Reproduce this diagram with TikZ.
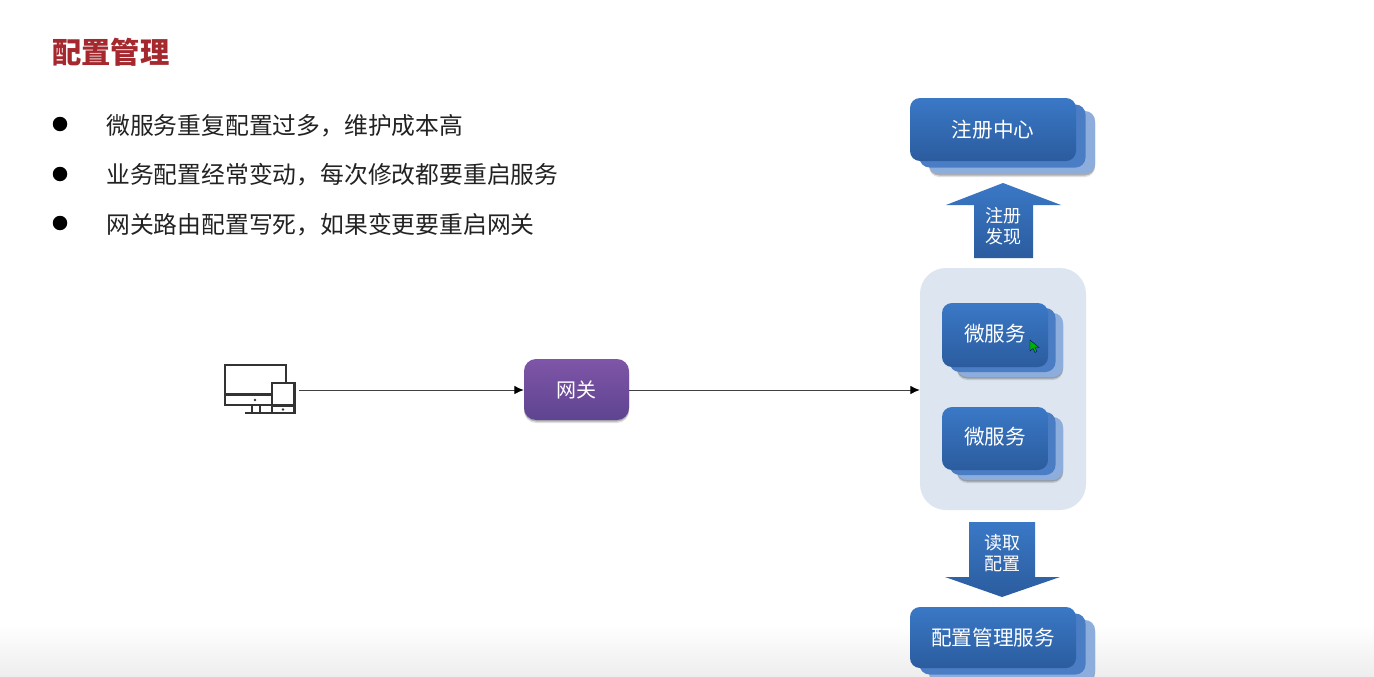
\documentclass[tikz,border=0pt]{standalone}
\usepackage{fontspec}
\setmainfont{Noto Sans CJK SC}
\usetikzlibrary{arrows.meta,shadows,calc}
\definecolor{titlered}{HTML}{A5282E}
\definecolor{bluetop}{HTML}{3A78C6}
\definecolor{bluebot}{HTML}{2B5C9E}
\definecolor{bluemid}{HTML}{4A7DC4}
\definecolor{blueback}{HTML}{8DAEDC}
\definecolor{panel}{HTML}{DCE5F0}
\definecolor{purptop}{HTML}{7F55A8}
\definecolor{purpbot}{HTML}{5E4490}
\definecolor{inkgray}{HTML}{222222}
\definecolor{iconink}{HTML}{333333}
\tikzset{
  softshadow/.style={
    drop shadow={shadow xshift=0pt,shadow yshift=-3pt,opacity=.12,fill=black},
    drop shadow={shadow xshift=0pt,shadow yshift=-1.5pt,opacity=.22,fill=black}},
  frontbox/.style={rectangle,rounded corners=10pt,inner sep=0pt,top color=bluetop,bottom color=bluebot,text=white,font=\fontsize{20.6}{24}\selectfont},
  midbox/.style={rectangle,rounded corners=10pt,inner sep=0pt,fill=bluemid},
  backbox/.style={rectangle,rounded corners=10pt,inner sep=0pt,fill=blueback,softshadow},
  gatebox/.style={rectangle,rounded corners=12pt,inner sep=0pt,top color=purptop,bottom color=purpbot,text=white,font=\fontsize{20}{24}\selectfont,softshadow},
  panelbox/.style={rectangle,rounded corners=26pt,inner sep=0pt,fill=panel},
  bullettext/.style={anchor=west,inner sep=0pt,text=inkgray,font=\fontsize{23.8}{28}\selectfont},
  bulletdot/.style={circle,fill=black,inner sep=0pt,minimum size=14.5pt},
  arrowtext/.style={align=center,text=white,inner sep=0pt,font=\fontsize{18}{22}\selectfont},
  blockarrow/.style={top color=bluetop,bottom color=bluebot},
  flow/.style={draw=black!75,line width=0.9pt,-{Latex[length=9.5pt,width=8.5pt,black]}},
  iconline/.style={draw=iconink,line width=2.7pt,line join=miter}
}
\newcommand{\stackbox}[7]{%
  \node[backbox,minimum width=#4 pt-#2 pt,minimum height=#5 pt-#3 pt] (#1back) at ({(#2+#4)/2+#6+#6},{(#3+#5)/2+#7+#7}) {};
  \node[midbox,minimum width=#4 pt-#2 pt,minimum height=#5 pt-#3 pt] (#1mid) at ({(#2+#4)/2+#6},{(#3+#5)/2+#7}) {};
}
\begin{document}
\begin{tikzpicture}[x=1pt,y=-1pt]
\useasboundingbox (0,0) rectangle (1374,677);
\clip (0,0) rectangle (1374,677);
\fill[white] (0,0) rectangle (1374,677);
\shade[top color=white,bottom color=black!7] (0,625) rectangle (1374,677);

% title and bullets
\node[anchor=west,inner sep=0pt,text=titlered,font=\bfseries\fontsize{29.3}{34}\selectfont] (title) at (52,52) {配置管理};
\node[bulletdot] (d1) at (60,124) {};
\node[bulletdot] (d2) at (60,174) {};
\node[bulletdot] (d3) at (60,223) {};
\node[bullettext] (t1) at (106,126) {微服务重复配置过多，维护成本高};
\node[bullettext] (t2) at (106,175) {业务配置经常变动，每次修改都要重启服务};
\node[bullettext] (t3) at (106,225) {网关路由配置写死，如果变更要重启网关};

% device icon
\draw[iconline] (225,365) rectangle (286,405);
\draw[iconline] (225,394.5) -- (271,394.5);
\draw[iconline] (252,405) -- (252,413) (260,405) -- (260,413);
\draw[iconline] (245,413) -- (271,413);
\fill[white] (271,382) rectangle (295,414);
\draw[iconline] (272,383) rectangle (294.5,413);
\draw[iconline] (272,405.5) -- (294.5,405.5);
\fill[iconink] (255,400) circle (1.4pt) (283,409.5) circle (1.4pt);
\coordinate (devend) at (299,390);

% service panel
\node[panelbox,minimum width=166pt,minimum height=242pt] (svc) at (1003,389) {};

% gateway
\node[gatebox,minimum width=105pt,minimum height=61pt] (gw) at (576.5,389.5) {网关};
\draw[flow] (devend) -- (devend -| gw.west);
\draw[flow] (devend -| gw.east) -- (devend -| svc.west);

% registry stack
\stackbox{reg}{910}{98}{1076}{161}{9.5}{6.5}
\node[frontbox,minimum width=166pt,minimum height=63pt] (reg) at (993,129.5) {\raisebox{2pt}{注册中心}};

% microservice stacks
\stackbox{msa}{942}{303}{1048}{367}{7.5}{5}
\node[frontbox,minimum width=106pt,minimum height=64pt] (msa) at (995,335) {\raisebox{4pt}{微服务}};
\stackbox{msb}{942}{407}{1048}{470}{7.5}{5}
\node[frontbox,minimum width=106pt,minimum height=63pt] (msb) at (995,438.5) {\raisebox{5pt}{微服务}};

% config stack
\stackbox{cfg}{910}{607}{1076}{668}{9.5}{6.5}
\node[frontbox,minimum width=166pt,minimum height=61pt] (cfg) at (993,637.5) {配置管理服务};

% block arrows
\shade[blockarrow] (1003,183) -- (1061,205) -- (1033,205) -- (1033,258) -- (974,258) -- (974,205) -- (946,205) -- cycle;
\node[arrowtext] (up) at (1003,226) {注册\\[-1pt]发现};
\shade[blockarrow] (969,522) -- (1035,522) -- (1035,577) -- (1060,577) -- (1002,597) -- (945,577) -- (969,577) -- cycle;
\node[arrowtext] (down) at (1002,553) {读取\\[-1pt]配置};

% mouse cursor
\fill[green!70!black,draw=blue!50!black,line width=0.4pt] (1030,340) -- (1030,351) -- (1033,348.5) -- (1035,352.5) -- (1037,351.5) -- (1035,347.5) -- (1039,347.5) -- cycle;
\end{tikzpicture}
\end{document}
